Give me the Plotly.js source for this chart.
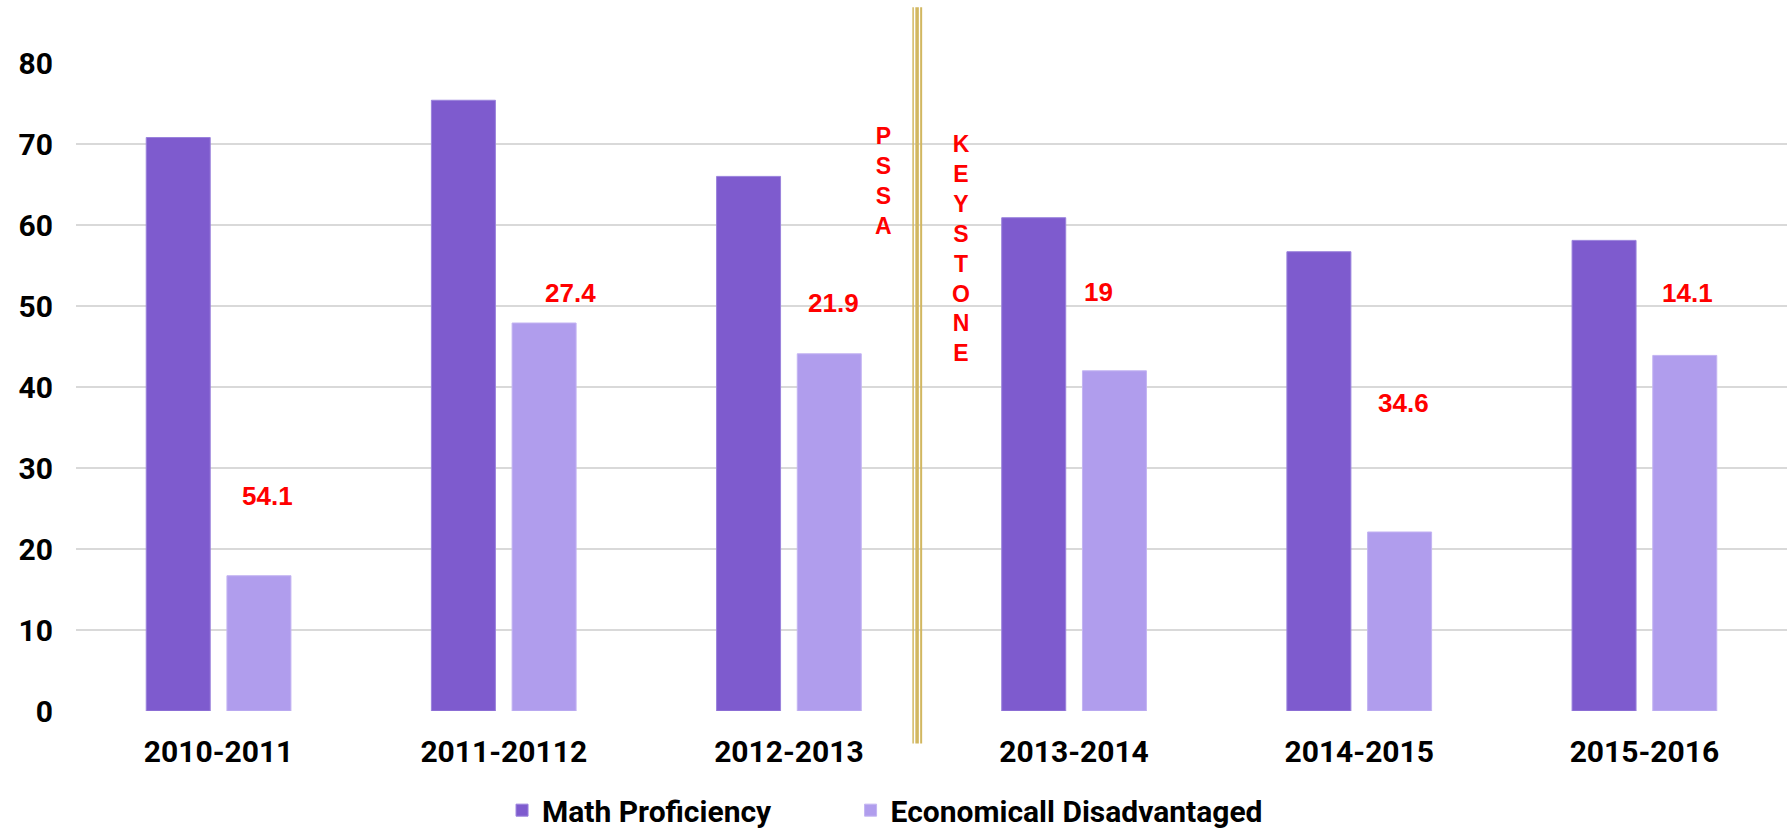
<!DOCTYPE html>
<html>
<head>
<meta charset="utf-8">
<script src="https://cdn.plot.ly/plotly-3.0.1.min.js"></script>
<style>
  html, body { margin: 0; padding: 0; background: #ffffff; }
  #chart { width: 1791px; height: 833px; }
</style>
</head>
<body>
<div id="chart"></div>
<script>
// ---- data ----
const categories = ["2010-2011", "2011-20112", "2012-2013", "2013-2014", "2014-2015", "2015-2016"];
const mathProficiency = [70.8, 75.4, 66.0, 60.9, 56.7, 58.1];
const econDisadvantaged = [16.7, 47.9, 44.1, 42.0, 22.1, 43.9];
const gapLabels = ["54.1", "27.4", "21.9", "19", "34.6", "14.1"];
const seriesNames = ["Math Proficiency", "Economicall Disadvantaged"];
const yTicks = [0, 10, 20, 30, 40, 50, 60, 70, 80];
const leftTestLabel = "PSSA";
const rightTestLabel = "KEYSTONE";

// ---- layout helpers (positions for the free-floating red labels) ----
const labelY = [26.6, 51.6, 50.4, 51.7, 38.0, 51.6];
const labelShift = [49, 67, 45, 24, 44, 43];

const traces = [
  {
    type: "bar",
    name: seriesNames[0],
    x: categories,
    y: mathProficiency,
    legend: "legend",
    marker: { color: "#7e5bce", line: { color: "#9a82dc", width: 1 } },
    hoverinfo: "x+y"
  },
  {
    type: "bar",
    name: seriesNames[1],
    x: categories,
    y: econDisadvantaged,
    legend: "legend2",
    marker: { color: "#b09ded", line: { color: "#c3b4f2", width: 1 } },
    hoverinfo: "x+y"
  }
];

const redFont = (size) => ({ family: "Liberation Sans, Arial, sans-serif", size: size, color: "#ff0000", weight: 700 });

const annotations = gapLabels.map((t, i) => ({
  x: i, xref: "x", y: labelY[i], yref: "y",
  text: "<b>" + t + "</b>",
  showarrow: false, xshift: labelShift[i],
  xanchor: "center", yanchor: "middle",
  font: redFont(26)
}));

annotations.push({
  x: 2.33, xref: "x", y: 65.4, yref: "y",
  text: "<b>" + leftTestLabel.split("").join("<br>") + "</b>",
  showarrow: false, xanchor: "center", yanchor: "middle",
  font: redFont(23)
});
annotations.push({
  x: 2.603, xref: "x", y: 57.1, yref: "y",
  text: "<b>" + rightTestLabel.split("").join("<br>") + "</b>",
  showarrow: false, xanchor: "center", yanchor: "middle",
  font: redFont(23)
});

const gold = "#d2b760";
const divider = [
  { x: 2.4355, w: 1.5 },
  { x: 2.4495, w: 3.5 },
  { x: 2.4637, w: 2 }
].map(d => ({
  type: "line", xref: "x", yref: "paper",
  x0: d.x, x1: d.x, y0: -0.05, y1: 1.086,
  line: { color: gold, width: d.w }
}));

const legendFont = { family: "Roboto, sans-serif", size: 30, color: "#000000", weight: 700 };

const layout = {
  width: 1791,
  height: 833,
  margin: { l: 76, r: 4, t: 63, b: 122, autoexpand: false },
  paper_bgcolor: "#ffffff",
  plot_bgcolor: "#ffffff",
  barmode: "group",
  bargap: 0.434,
  bargroupgap: 0.207,
  showlegend: true,
  legend: {
    orientation: "h",
    x: 0.249, xanchor: "left",
    y: -0.153, yanchor: "middle",
    font: legendFont,
    itemclick: false
  },
  legend2: {
    orientation: "h",
    x: 0.4527, xanchor: "left",
    y: -0.153, yanchor: "middle",
    font: legendFont,
    itemclick: false
  },
  xaxis: {
    type: "category",
    showgrid: false,
    showline: false,
    zeroline: false,
    ticks: "",
    ticklabelstandoff: 20,
    tickfont: { family: "Roboto, sans-serif", size: 30, color: "#000000", weight: 700 }
  },
  yaxis: {
    range: [0, 80],
    tickvals: yTicks,
    showgrid: true,
    gridcolor: "#d9d9d9",
    gridwidth: 2,
    zeroline: false,
    showline: false,
    ticks: "",
    ticklabelstandoff: 22,
    tickfont: { family: "Roboto, sans-serif", size: 30, color: "#000000", weight: 700 }
  },
  annotations: annotations,
  shapes: divider
};

Plotly.newPlot("chart", traces, layout, { displayModeBar: false, staticPlot: true });
</script>
</body>
</html>
